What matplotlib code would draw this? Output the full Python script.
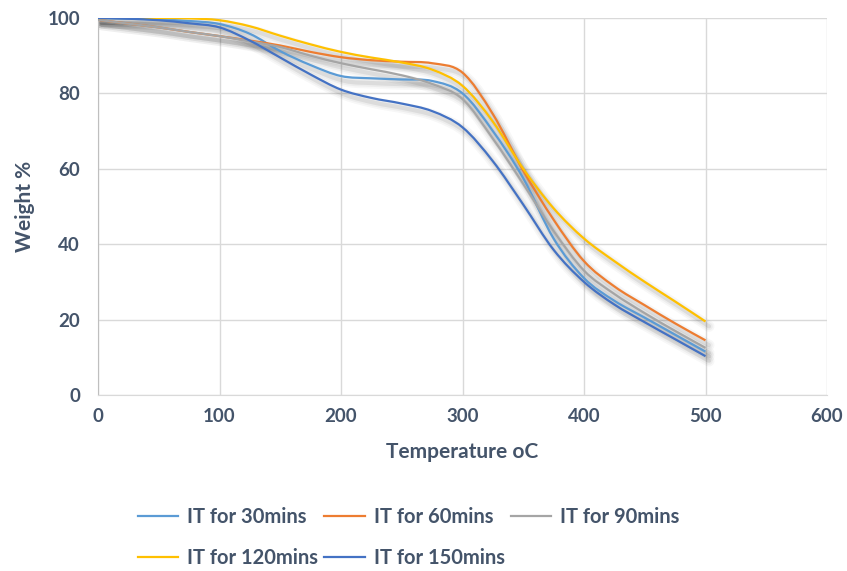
import matplotlib
matplotlib.use('Agg')
import matplotlib.pyplot as plt
from matplotlib.path import Path
from matplotlib.patches import PathPatch
from matplotlib.lines import Line2D
import matplotlib.transforms as mtransforms

temperature = [0, 25, 50, 75, 100, 125, 150, 175, 200, 225, 250,
               275, 300, 325, 350, 375, 400, 425, 450, 475, 500]

it_30 = [100, 99.8, 99.6, 99.2, 98.4, 95.8, 91.2, 87.5, 84.6, 84.0, 83.7,
         83.3, 80.0, 70.0, 57.5, 41.5, 31.0, 25.0, 20.5, 16.0, 11.5]
it_60 = [99.5, 98.5, 97.5, 96.3, 95.2, 94.0, 92.7, 91.0, 89.6, 88.8, 88.4,
         88.0, 85.5, 74.5, 59.5, 46.5, 35.5, 28.8, 23.8, 19.0, 14.5]
it_90 = [99.5, 98.5, 97.5, 96.3, 95.2, 93.8, 92.3, 90.0, 88.0, 86.4, 84.8,
         82.5, 78.5, 68.0, 56.0, 43.5, 33.0, 26.8, 21.7, 17.0, 12.5]
it_120 = [100, 100, 100, 99.9, 99.4, 97.8, 95.3, 93.0, 91.0, 89.5, 88.2,
          86.3, 82.0, 72.5, 60.0, 49.5, 41.5, 35.5, 30.0, 24.8, 19.5]
it_150 = [100, 99.8, 99.4, 98.6, 97.5, 94.0, 89.5, 85.0, 81.0, 78.8, 77.3,
          75.3, 71.0, 62.0, 50.5, 38.5, 30.0, 24.0, 19.3, 14.8, 10.3]

series = [
    ('IT for 30mins', it_30, '#5B9BD5'),
    ('IT for 60mins', it_60, '#ED7D31'),
    ('IT for 90mins', it_90, '#A5A5A5'),
    ('IT for 120mins', it_120, '#FFC000'),
    ('IT for 150mins', it_150, '#4472C4'),
]

text_color = '#44546A'
grid_color = '#D9D9D9'


def smooth_path(xs, ys):
    # catmull-rom style bezier, like Excel's smoothed line
    pts = list(zip(xs, ys))
    n = len(pts)
    verts = [pts[0]]
    codes = [Path.MOVETO]
    for i in range(n - 1):
        p0 = pts[max(i - 1, 0)]
        p1 = pts[i]
        p2 = pts[i + 1]
        p3 = pts[min(i + 2, n - 1)]
        c1 = (p1[0] + (p2[0] - p0[0]) / 6, p1[1] + (p2[1] - p0[1]) / 6)
        c2 = (p2[0] - (p3[0] - p1[0]) / 6, p2[1] - (p3[1] - p1[1]) / 6)
        verts += [c1, c2, p2]
        codes += [Path.CURVE4] * 3
    return Path(verts, codes)


plt.rcParams['font.family'] = ['Lato', 'DejaVu Sans']

fig = plt.figure(figsize=(8.47, 5.71), dpi=100)
ax = fig.add_axes([0.1157, 0.3082, 0.8607, 0.6603])

# shadows first
tr = mtransforms.offset_copy(ax.transData, fig=fig, x=2.5, y=-3.5, units='points')
for label, values, color in series:
    path = smooth_path(temperature, values)
    for lw, a in [(8, 0.03), (5.5, 0.04), (3, 0.07)]:
        ax.add_patch(PathPatch(path, facecolor='none', edgecolor='black',
                               lw=lw, alpha=a, transform=tr,
                               capstyle='round', zorder=2))

handles = {}
for label, values, color in series:
    path = smooth_path(temperature, values)
    ax.add_patch(PathPatch(path, facecolor='none', edgecolor=color, lw=1.6,
                           zorder=3))
    handles[label] = Line2D([], [], color=color, lw=1.6, label=label)

ax.set_xlim(0, 600)
ax.set_ylim(0, 100)
ax.set_xticks(range(0, 601, 100))
ax.set_yticks(range(0, 101, 20))
ax.grid(True, color=grid_color, lw=1.0)
ax.set_axisbelow(True)
for side in ['top', 'right']:
    ax.spines[side].set_visible(False)
ax.spines['left'].set_color('#BFBFBF')
ax.spines['bottom'].set_color(grid_color)
ax.tick_params(axis='x', length=0, labelsize=13.5, labelcolor=text_color, pad=9)
ax.tick_params(axis='y', length=0, labelsize=13.5, labelcolor=text_color, pad=13)
for t in ax.get_xticklabels() + ax.get_yticklabels():
    t.set_fontweight('bold')

ax.set_xlabel('Temperature oC', fontsize=15, fontweight='bold',
              color=text_color)
ax.xaxis.set_label_coords(0.5, -0.151)
ax.xaxis.label.set_verticalalignment('center')
ax.set_ylabel('Weight %', fontsize=15, fontweight='bold', color=text_color)
ax.yaxis.set_label_coords(-0.1, 0.5)
ax.yaxis.label.set_verticalalignment('center')

# legend fills column by column, so order it to read row by row
order = ['IT for 30mins', 'IT for 120mins', 'IT for 60mins',
         'IT for 150mins', 'IT for 90mins']
leg = fig.legend(handles=[handles[k] for k in order], loc='upper left', ncol=3,
                 bbox_to_anchor=(138 / 847, 1 - 507 / 571), frameon=False,
                 prop={'weight': 'bold', 'size': 14.5},
                 handlelength=2.0, handletextpad=0.45, columnspacing=0.3,
                 labelspacing=1.05, borderaxespad=0, borderpad=0)
for t in leg.get_texts():
    t.set_color(text_color)

fig.savefig('out.png', dpi=100)
